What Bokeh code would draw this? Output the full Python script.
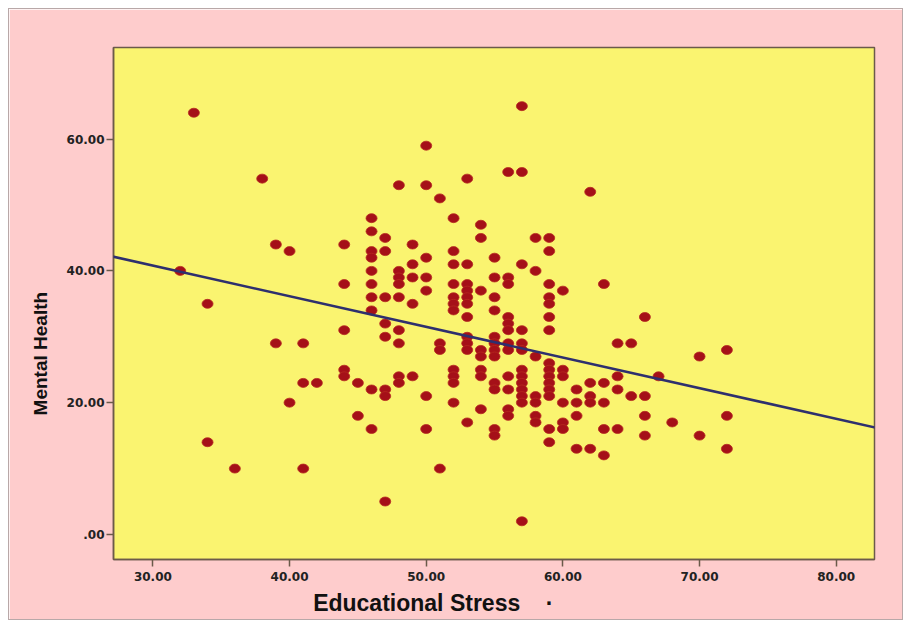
from bokeh.plotting import figure
from bokeh.models import Slope, CustomJSTickFormatter, FixedTicker, Range1d
from bokeh.embed import file_html
from bokeh.resources import INLINE

# Educational Stress (x) and Mental Health (y)
stress = ([32] + [33] + [34] * 2 + [36] + [38] + [39] * 2 + [40] * 2 + [41] * 3 + [42]
          + [44] * 5 + [45] * 2 + [46] * 10 + [47] * 8 + [48] * 9 + [49] * 5 + [50] * 7
          + [51] * 4 + [52] * 11 + [53] * 11 + [54] * 8 + [55] * 12 + [56] * 12 + [57] * 13
          + [58] * 7 + [59] * 15 + [60] * 6 + [61] * 4 + [62] * 5 + [63] * 5 + [64] * 4
          + [65] * 2 + [66] * 4 + [67] + [68] + [70] * 2 + [72] * 3)
mental = ([40] + [64] + [35, 14] + [10] + [54] + [44, 29] + [43, 20] + [29, 23, 10] + [23]
          + [44, 38, 31, 25, 24] + [23, 18]
          + [48, 46, 43, 42, 40, 38, 36, 34, 22, 16]
          + [45, 43, 36, 32, 30, 22, 21, 5]
          + [53, 40, 39, 38, 36, 31, 29, 24, 23]
          + [44, 41, 39, 35, 24]
          + [59, 53, 42, 39, 37, 21, 16]
          + [51, 29, 28, 10]
          + [48, 43, 41, 38, 36, 35, 34, 25, 24, 23, 20]
          + [54, 41, 38, 37, 36, 35, 33, 30, 29, 28, 17]
          + [47, 45, 37, 28, 27, 25, 24, 19]
          + [42, 39, 36, 34, 30, 29, 28, 27, 23, 22, 16, 15]
          + [55, 39, 38, 33, 32, 31, 29, 28, 24, 22, 19, 18]
          + [65, 55, 41, 31, 29, 28, 25, 24, 23, 22, 21, 20, 2]
          + [45, 40, 27, 21, 20, 18, 17]
          + [45, 43, 38, 36, 35, 33, 31, 26, 25, 24, 23, 22, 21, 16, 14]
          + [37, 25, 24, 20, 17, 16]
          + [22, 20, 18, 13]
          + [52, 23, 21, 20, 13]
          + [38, 23, 20, 16, 12]
          + [29, 24, 22, 16]
          + [29, 21]
          + [33, 21, 18, 15]
          + [24] + [17] + [27, 15] + [28, 18, 13])

x_ticks = [30, 40, 50, 60, 70, 80]
y_ticks = [0, 20, 40, 60]
fit_intercept = 54.75
fit_slope = -0.465

x_title = "Educational Stress"
y_title = "Mental Health"

PINK = "#FECCCC"
YELLOW = "#FAF470"
DOT = "#A51018"
LINE = "#2E2F6E"
AXIS = "#6B5A4A"
NB = "\u00a0"

p = figure(width=895, height=612, output_backend="svg", toolbar_location=None,
           x_range=Range1d(27.12, 82.8), y_range=Range1d(-3.8, 73.9),
           min_border_left=104, min_border_right=30, min_border_top=38, min_border_bottom=62)
p.styles = {"margin-left": "8px", "margin-top": "8px", "border": "1px solid #B8A8A8"}
p.background_fill_color = YELLOW
p.border_fill_color = PINK
p.outline_line_color = AXIS
p.outline_line_width = 1.5
p.xgrid.visible = False
p.ygrid.visible = False

p.ellipse(x=stress, y=mental, width=11, height=9, width_units="screen", height_units="screen",
          fill_color=DOT, line_color="#B52A20", line_width=0.8)

p.add_layout(Slope(gradient=fit_slope, y_intercept=fit_intercept, line_color=LINE, line_width=2.6))

fmt = CustomJSTickFormatter(code="return tick == 0 ? '.00' : tick.toFixed(2);")
for ax in (p.xaxis[0], p.yaxis[0]):
    ax.formatter = fmt
    ax.axis_line_color = AXIS
    ax.axis_line_width = 1.5
    ax.major_tick_line_color = AXIS
    ax.major_tick_line_width = 1.5
    ax.major_tick_out = 7
    ax.major_tick_in = 0
    ax.minor_tick_line_color = None
    ax.major_label_text_font = "DejaVu Sans"
    ax.major_label_text_font_style = "bold"
    ax.major_label_text_font_size = "12px"
    ax.major_label_text_color = "#222222"
    ax.axis_label_text_font = "Liberation Sans"
    ax.axis_label_text_font_style = "bold"
    ax.axis_label_text_color = "#111111"
p.xaxis[0].ticker = FixedTicker(ticks=x_ticks)
p.yaxis[0].ticker = FixedTicker(ticks=y_ticks)
p.xaxis[0].major_label_standoff = 5
p.yaxis[0].major_label_standoff = 2

# axis titles are offset from the frame centre in the reference: pad with non-breaking spaces
p.xaxis[0].axis_label = x_title + NB * 4 + "·" + NB * 19
p.xaxis[0].axis_label_text_font_size = "23px"
p.xaxis[0].axis_label_standoff = 6
p.yaxis[0].axis_label = y_title + NB * 19
p.yaxis[0].axis_label_text_font_size = "19px"
p.yaxis[0].axis_label_standoff = 13

open("out.html", "w").write(file_html(p, INLINE))
